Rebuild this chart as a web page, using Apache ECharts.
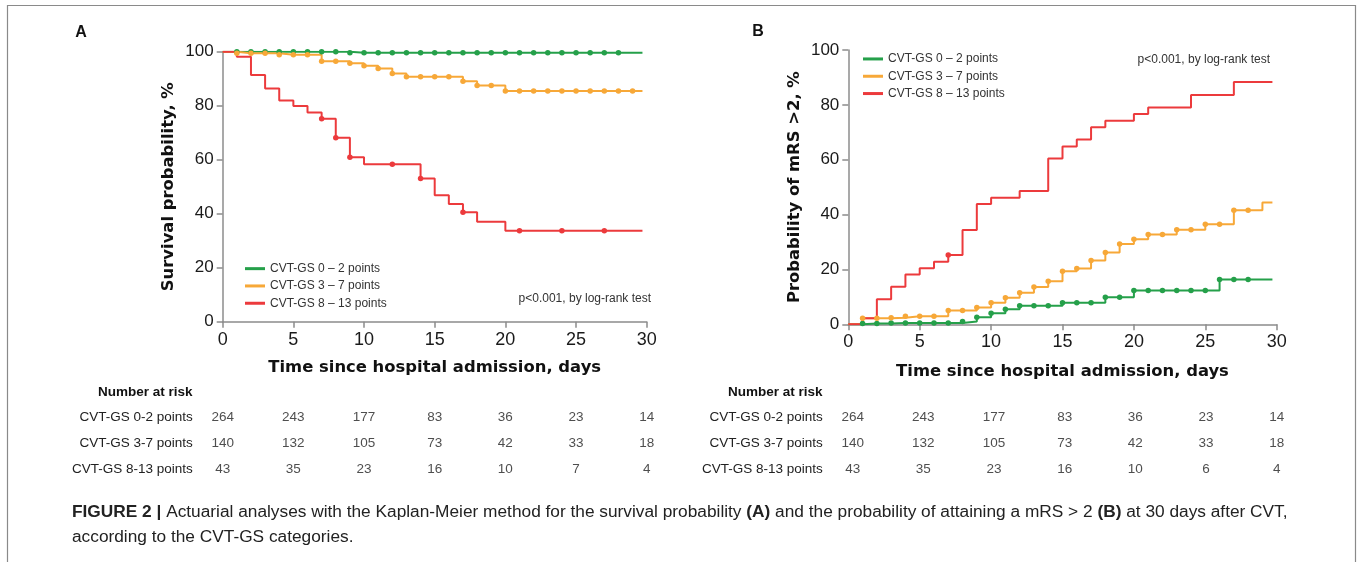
<!DOCTYPE html>
<html><head><meta charset="utf-8">
<script src="https://cdn.jsdelivr.net/npm/echarts@6/dist/echarts.min.js"></script>
<style>html,body{margin:0;padding:0;background:#fff;}#c{width:1360px;height:562px;}</style>
</head><body><div id="c"></div>
<script>
// ---- data ----
const days = [0,1,2,3,4,5,6,7,8,9,10,11,12,13,14,15,16,17,18,19,20,21,22,23,24,25,26,27,28,29,29.7];
const groupNames = ['CVT-GS 0 \u2013 2 points','CVT-GS 3 \u2013 7 points','CVT-GS 8 \u2013 13 points'];
const rowLabels = ['CVT-GS 0-2 points','CVT-GS 3-7 points','CVT-GS 8-13 points'];
const riskTimes = [0,5,10,15,20,25,30];

// Panel A: survival probability (%)
const survLow  = [100,100,100,100,100,100,100,100,100,99.6,99.6,99.6,99.6,99.6,99.6,99.6,99.6,99.6,99.6,99.6,99.6,99.6,99.6,99.6,99.6,99.6,99.6,99.6,99.6,99.6,99.6];
const survMid  = [100,99.4,99.4,99.4,98.9,98.9,98.9,96.5,96.5,95.7,94.8,93.8,91.9,90.7,90.7,90.7,90.7,89.1,87.5,87.5,85.4,85.4,85.4,85.4,85.4,85.4,85.4,85.4,85.4,85.4,85.4];
const survHigh = [100,98.1,91.4,86.4,81.9,79.9,77.5,75.2,68.1,60.9,58.3,58.3,58.3,58.3,53.0,46.8,43.6,40.5,37.0,37.0,33.7,33.7,33.7,33.7,33.7,33.7,33.7,33.7,33.7,33.7,33.7];
const censA_low  = [1,2,3,4,5,6,7,8,9,10,11,12,13,14,15,16,17,18,19,20,21,22,23,24,25,26,27,28];
const censA_mid  = [1,2,3,4,5,6,7,8,9,10,11,12,13,14,15,16,17,18,19,20,21,22,23,24,25,26,27,28,29];
const censA_high = [7,8,9,12,14,17,21,24,27];

// Panel B: probability of mRS > 2 (%)
const mrsLow  = [0,0.3,0.3,0.5,0.5,0.5,0.5,0.5,1.0,2.6,4.0,5.5,6.8,6.8,6.8,7.9,7.9,7.9,9.9,9.9,12.3,12.3,12.3,12.3,12.3,12.3,16.3,16.3,16.3,16.3,16.3];
const mrsMid  = [0,2.2,2.2,2.4,2.9,2.9,2.9,5.0,5.0,6.1,7.9,9.7,11.5,13.6,15.7,19.3,20.3,23.3,26.2,29.3,31.0,32.7,32.7,34.5,34.5,36.5,36.5,41.6,41.6,44.4,44.4];
const mrsHigh = [0,2.2,9.1,13.7,18.2,20.4,22.8,25.3,34.4,43.9,46.1,46.1,48.6,48.6,60.4,64.8,67.4,71.8,74.2,74.2,76.7,79.0,79.0,79.0,83.6,83.6,83.6,88.3,88.3,88.3,88.3];
const censB_low  = [1,2,3,4,5,6,7,8,9,10,11,12,13,14,15,16,17,18,19,20,21,22,23,24,25,26,27,28];
const censB_mid  = [1,2,3,4,5,6,7,8,9,10,11,12,13,14,15,16,17,18,19,20,21,22,23,24,25,26,27,28];
const censB_high = [7];

// Numbers at risk
const riskA_low  = [264,243,177,83,36,23,14];
const riskA_mid  = [140,132,105,73,42,33,18];
const riskA_high = [43,35,23,16,10,7,4];
const riskB_low  = [264,243,177,83,36,23,14];
const riskB_mid  = [140,132,105,73,42,33,18];
const riskB_high = [43,35,23,16,10,6,4];

// ---- chart ----
const colors = ['#25a04a','#f7a838','#ec3a3c'];
const SANS = "'Liberation Sans', Arial, Helvetica, sans-serif";
const BOLD = "'DejaVu Sans', Verdana, sans-serif";
const axisGray = '#8c8c8c';

function kmSeries(name, vals, cens, color, idx){
  return {
    type:'line', name, step:'end', xAxisIndex:idx, yAxisIndex:idx,
    showAllSymbol:true, symbol:'circle', symbolSize:5.5,
    lineStyle:{color, width:2}, itemStyle:{color},
    data: days.map((d,i)=> cens.includes(d) ? {value:[d, vals[i]]} : {value:[d, vals[i]], symbol:'none'}),
    z:3
  };
}
function riskSeries(rows, idx){
  const data = [];
  rows.forEach((arr,r)=>arr.forEach((n,j)=>data.push([riskTimes[j], r, n])));
  return {
    type:'scatter', xAxisIndex:idx, yAxisIndex:idx, symbolSize:1,
    itemStyle:{color:'rgba(0,0,0,0)'}, silent:true,
    label:{show:true, position:'inside', formatter:p=>String(p.data[2]), fontFamily:SANS, fontSize:13.5, color:'#222'},
    data
  };
}
function plotX(idx, gap){
  return {gridIndex:idx, type:'value', min:0, max:30, interval:5,
    name:'Time since hospital admission, days', nameLocation:'middle', nameGap:gap,
    nameTextStyle:{fontFamily:BOLD, fontWeight:'bold', fontSize:16.4, color:'#111'},
    axisLine:{lineStyle:{color:axisGray, width:1.5}},
    axisTick:{length:6, lineStyle:{color:axisGray, width:1.5}},
    axisLabel:{fontFamily:SANS, fontSize:18, color:'#1a1a1a', margin:9},
    splitLine:{show:false}};
}
function plotY(idx, name){
  return {gridIndex:idx, type:'value', min:0, max:100, interval:20,
    name, nameLocation:'middle', nameGap:46,
    nameTextStyle:{fontFamily:BOLD, fontWeight:'bold', fontSize:16.4, color:'#111'},
    axisLine:{show:true, lineStyle:{color:axisGray, width:1.5}},
    axisTick:{show:true, length:6, lineStyle:{color:axisGray, width:1.5}},
    axisLabel:{fontFamily:SANS, fontSize:17, color:'#1a1a1a', margin:9},
    splitLine:{show:false}};
}
function tableX(idx){ return {gridIndex:idx, type:'value', min:0, max:30, show:false}; }
function tableY(idx){
  return {gridIndex:idx, type:'category', data:rowLabels, inverse:true,
    axisLine:{show:false}, axisTick:{show:false}, splitLine:{show:false},
    axisLabel:{fontFamily:SANS, fontSize:13.5, color:'#222', margin:30}};
}
const legendBase = {orient:'vertical', icon:'rect', itemWidth:20, itemHeight:3, itemGap:5,
  data:groupNames, selectedMode:false, padding:0,
  textStyle:{fontFamily:SANS, fontSize:12, color:'#333', lineHeight:12.3}};

const chart = echarts.init(document.getElementById('c'), null, {renderer:'canvas'});
chart.setOption({
  animation:false,
  backgroundColor:'#fff',
  title:[{
    left:72, top:500, padding:0,
    text:'{b|FIGURE 2 |} Actuarial analyses with the Kaplan-Meier method for the survival probability {b|(A)} and the probability of attaining a mRS > 2 {b|(B)} at 30 days after CVT,\naccording to the CVT-GS categories.',
    textStyle:{fontFamily:SANS, fontSize:17.3, fontWeight:'normal', color:'#222', lineHeight:25,
      rich:{b:{fontFamily:SANS, fontSize:17.3, fontWeight:'bold', color:'#222', lineHeight:25}}}
  }],
  legend:[
    Object.assign({left:245, top:262.5}, legendBase),
    Object.assign({left:863, top:52.8}, legendBase)
  ],
  grid:[
    {left:222.7, top:51.7, width:424, height:270},
    {left:848.3, top:50, width:428.4, height:274.3},
    {left:222.7, top:404, width:424, height:78},
    {left:852.7, top:404, width:424, height:78}
  ],
  xAxis:[plotX(0,38), plotX(1,39), tableX(2), tableX(3)],
  yAxis:[plotY(0,'Survival probability, %'), plotY(1,'Probability of mRS >2, %'), tableY(2), tableY(3)],
  series:[
    kmSeries(groupNames[0], survLow, censA_low, colors[0], 0),
    kmSeries(groupNames[1], survMid, censA_mid, colors[1], 0),
    kmSeries(groupNames[2], survHigh, censA_high, colors[2], 0),
    kmSeries(groupNames[0], mrsLow, censB_low, colors[0], 1),
    kmSeries(groupNames[1], mrsMid, censB_mid, colors[1], 1),
    kmSeries(groupNames[2], mrsHigh, censB_high, colors[2], 1),
    riskSeries([riskA_low, riskA_mid, riskA_high], 2),
    riskSeries([riskB_low, riskB_mid, riskB_high], 3)
  ],
  graphic:[
    {type:'rect', shape:{x:7.5, y:5.5, width:1348, height:620}, style:{fill:'none', stroke:'#8a8a8a', lineWidth:1.2}, silent:true},
    {type:'text', x:81, y:32.5, style:{text:'A', fontFamily:SANS, fontWeight:'bold', fontSize:16, fill:'#111', textAlign:'center', textVerticalAlign:'middle'}},
    {type:'text', x:758, y:31.5, style:{text:'B', fontFamily:SANS, fontWeight:'bold', fontSize:16, fill:'#111', textAlign:'center', textVerticalAlign:'middle'}},
    {type:'text', x:651, y:299, style:{text:'p<0.001, by log-rank test', fontFamily:SANS, fontSize:12, fill:'#333', textAlign:'right', textVerticalAlign:'middle'}},
    {type:'text', x:1270, y:60, style:{text:'p<0.001, by log-rank test', fontFamily:SANS, fontSize:12, fill:'#333', textAlign:'right', textVerticalAlign:'middle'}},
    {type:'text', x:98, y:392, style:{text:'Number at risk', fontFamily:SANS, fontWeight:'bold', fontSize:13.5, fill:'#111', textAlign:'left', textVerticalAlign:'middle'}},
    {type:'text', x:728, y:392, style:{text:'Number at risk', fontFamily:SANS, fontWeight:'bold', fontSize:13.5, fill:'#111', textAlign:'left', textVerticalAlign:'middle'}}
  ]
});
</script></body></html>
